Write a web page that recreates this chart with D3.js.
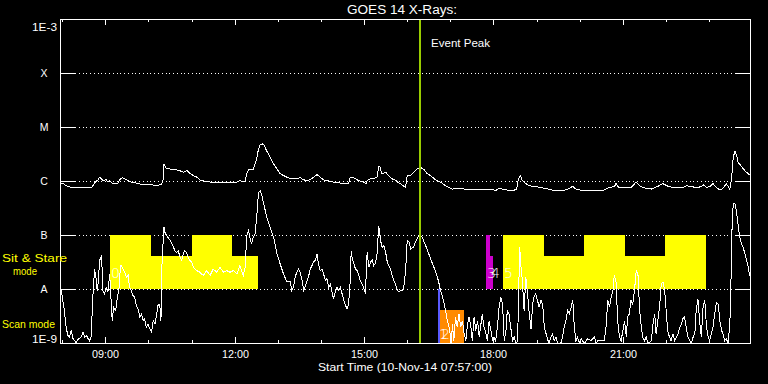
<!DOCTYPE html>
<html><head><meta charset="utf-8">
<script src="https://cdn.jsdelivr.net/npm/d3@7"></script>
<style>html,body{margin:0;padding:0;background:#000;}svg{display:block;}</style>
</head><body>
<svg id="c" width="768" height="384"></svg>
<script>
// ---------- data ----------
const levelValues = [1e-3, 1e-4, 1e-5, 1e-6, 1e-7, 1e-8, 1e-9];
const levelLabels = ["1E-3", "X", "M", "C", "B", "A", "1E-9"];
const gridLevels = [1e-4, 1e-5, 1e-6, 1e-7, 1e-8];
const majorHours = [9, 12, 15, 18, 21];
const startHour = 7.95, endHour = 23.95;   // 07:57 .. 23:57 UT, 10-Nov-14
const eventPeakHour = 16.3;

// GOES 14 long channel (1-8 A): hour UT, log10 flux (W/m^2)
const longTime = [7.93,8.00,8.08,8.20,8.31,8.55,8.66,8.70,8.76,8.82,8.86,8.90,8.93,9.01,9.05,9.09,9.15,9.21,9.28,9.32,9.38,9.44,9.52,9.59,9.71,9.87,10.02,10.18,10.29,10.33,10.35,10.39,10.49,10.60,10.72,10.80,10.83,10.89,10.95,11.03,11.11,11.18,11.26,11.42,11.57,11.80,11.96,12.04,12.11,12.18,12.23,12.27,12.31,12.38,12.42,12.46,12.50,12.54,12.58,12.63,12.67,12.73,12.81,12.89,12.97,13.04,13.12,13.20,13.28,13.35,13.43,13.51,13.59,13.66,13.74,13.82,13.90,13.97,14.05,14.13,14.28,14.44,14.56,14.63,14.67,14.75,14.83,14.90,14.98,15.04,15.06,15.14,15.21,15.29,15.33,15.37,15.38,15.41,15.49,15.56,15.64,15.72,15.80,15.83,
15.95,15.99,16.07,16.14,16.22,16.30,16.38,16.45,16.53,16.65,16.76,16.88,16.96,17.04,17.15,17.31,17.46,17.62,17.77,17.93,18.04,18.12,18.20,18.32,18.47,18.53,18.56,18.61,18.66,18.74,18.82,18.94,19.09,19.25,19.40,19.59,19.71,19.83,19.90,20.02,20.18,20.33,20.52,20.64,20.80,20.83,20.89,20.99,21.18,21.30,21.38,21.49,21.65,21.80,21.92,22.04,22.19,22.35,22.46,22.58,22.70,22.81,22.87,22.93,23.01,23.08,23.16,23.24,23.32,23.39,23.47,23.51,23.55,23.59,23.63,23.66,23.74,23.82,23.90,23.97];
const longLog = [-6.04,-6.03,-6.08,-6.11,-6.12,-6.11,-6.12,-6.08,-6.01,-5.97,-5.92,-5.95,-5.98,-5.97,-6.01,-5.98,-6.03,-6.04,-6.03,-5.97,-5.93,-5.95,-5.98,-6.01,-6.03,-6.06,-6.06,-6.07,-6.06,-5.97,-5.67,-5.75,-5.77,-5.78,-5.80,-5.83,-5.81,-5.80,-5.85,-5.89,-5.92,-5.97,-5.99,-6.01,-6.01,-6.01,-6.01,-6.01,-5.98,-6.01,-5.99,-5.85,-5.78,-5.78,-5.77,-5.67,-5.58,-5.40,-5.32,-5.30,-5.33,-5.43,-5.55,-5.67,-5.77,-5.85,-5.89,-5.92,-5.95,-5.95,-5.95,-5.93,-5.97,-5.98,-5.97,-5.92,-5.87,-5.92,-5.97,-5.98,-6.01,-6.03,-6.04,-6.04,-5.92,-5.93,-5.97,-5.99,-6.01,-6.04,-5.98,-5.95,-5.95,-5.92,-5.72,-5.74,-5.80,-5.86,-5.83,-5.89,-5.95,-5.98,-6.03,-6.04,
-6.11,-5.89,-5.89,-5.83,-5.77,-5.74,-5.78,-5.85,-5.89,-5.97,-6.01,-6.08,-6.11,-6.14,-6.12,-6.14,-6.15,-6.15,-6.14,-6.14,-6.17,-6.12,-6.14,-6.16,-6.16,-6.14,-5.98,-5.89,-5.98,-6.04,-6.08,-6.09,-6.11,-6.14,-6.17,-6.17,-6.14,-6.09,-6.14,-6.16,-6.17,-6.17,-6.17,-6.12,-6.09,-6.03,-6.11,-6.12,-6.11,-6.01,-6.08,-6.12,-6.14,-6.09,-6.04,-6.09,-6.12,-6.12,-6.08,-6.09,-6.12,-6.09,-6.06,-6.11,-6.09,-6.04,-6.11,-6.16,-6.12,-6.04,-6.14,-5.95,-5.55,-5.44,-5.52,-5.64,-5.72,-5.80,-5.86,-5.89];

// GOES 14 short channel (0.5-4 A): hour UT, log10 flux (W/m^2); -9 = below plot floor
const shortTime = [7.93,7.97,8.00,8.04,8.08,8.12,8.16,8.20,8.24,8.28,8.31,8.35,8.43,8.47,8.51,8.55,8.59,8.62,8.66,8.70,8.74,8.78,8.80,8.82,8.86,8.90,8.92,8.93,8.97,9.01,9.05,9.09,9.13,9.15,9.18,9.23,9.26,9.31,9.34,9.36,9.40,9.44,9.48,9.52,9.55,9.59,9.63,9.67,9.71,9.75,9.79,9.83,9.87,9.90,9.94,9.98,10.02,10.06,10.10,10.14,10.18,10.21,10.25,10.28,10.29,10.31,10.35,10.37,10.41,10.49,10.56,10.60,10.64,10.68,10.72,10.76,10.80,10.83,10.87,10.91,10.95,10.99,11.03,11.11,11.18,11.26,11.34,11.42,11.49,11.57,11.65,11.73,11.80,11.88,11.96,12.04,12.11,12.19,12.23,12.27,12.31,12.35,12.38,12.42,12.46,12.50,12.54,12.58,12.62,12.66,12.69,12.73,12.77,12.81,12.89,12.97,13.04,13.12,13.20,13.28,
13.31,13.35,13.39,13.43,13.47,13.51,13.55,13.59,13.62,13.66,13.70,13.74,13.78,13.82,13.86,13.90,13.93,13.97,14.01,14.05,14.09,14.13,14.17,14.21,14.24,14.28,14.32,14.36,14.40,14.44,14.48,14.52,14.55,14.59,14.63,14.67,14.69,14.71,14.75,14.79,14.83,14.86,14.90,14.94,14.98,15.02,15.06,15.10,15.14,15.18,15.21,15.25,15.29,15.33,15.37,15.41,15.45,15.49,15.52,15.56,15.60,15.64,15.68,15.72,15.76,15.80,15.83,15.87,15.91,15.95,15.99,16.03,16.07,16.11,16.14,16.18,16.22,16.26,16.30,16.34,16.38,16.45,16.53,16.61,16.69,16.73,16.76,16.80,16.84,16.88,16.92,16.96,17.00,17.01,17.04,17.07,17.11,17.15,17.19,17.23,17.27,17.31,17.35,17.38,17.42,17.46,17.50,17.54,17.58,17.62,17.66,17.69,17.73,17.77,17.81,17.85,17.89,17.93,17.97,18.00,18.04,18.08,18.12,18.16,18.20,18.24,18.28,18.31,18.35,18.39,18.43,18.47,18.51,18.55,18.58,18.60,
18.62,18.66,18.70,18.74,18.78,18.82,18.86,18.90,18.93,18.97,19.01,19.05,19.09,19.13,19.17,19.21,19.24,19.28,19.32,19.36,19.40,19.44,19.48,19.55,19.59,19.63,19.67,19.71,19.75,19.79,19.83,19.86,19.90,19.94,19.98,20.02,20.10,20.17,20.25,20.33,20.37,20.41,20.48,20.56,20.60,20.64,20.68,20.72,20.76,20.79,20.83,20.87,20.91,20.95,20.99,21.03,21.07,21.10,21.14,21.18,21.22,21.26,21.30,21.34,21.38,21.41,21.45,21.49,21.53,21.57,21.65,21.69,21.73,21.76,21.80,21.84,21.88,21.92,21.96,22.00,22.03,22.07,22.11,22.15,22.19,22.23,22.27,22.31,22.35,22.38,22.42,22.46,22.50,22.54,22.58,22.62,22.66,22.69,22.73,22.77,22.81,22.85,22.89,22.93,22.97,23.00,23.04,23.08,23.12,23.16,23.20,23.24,23.28,23.31,23.35,23.39,23.43,23.47,23.49,23.52,23.55,23.59,23.62,23.66,23.70,23.74,23.78,23.82,23.86,23.90,23.93,23.97,23.99];
const shortLog = [-7.96,-8.02,-8.20,-8.39,-8.70,-8.85,-8.88,-8.76,-8.91,-8.95,-8.98,-8.93,-8.88,-8.79,-8.88,-8.85,-8.91,-8.95,-8.88,-8.14,-7.62,-7.83,-8.02,-7.90,-7.46,-7.37,-7.71,-8.02,-8.08,-7.96,-8.05,-7.71,-8.30,-8.58,-8.33,-8.39,-8.20,-7.96,-7.56,-7.56,-7.62,-7.68,-7.77,-7.74,-7.96,-8.02,-8.11,-8.14,-8.30,-8.36,-8.51,-8.45,-8.58,-8.54,-8.70,-8.64,-8.73,-8.79,-8.58,-8.64,-8.45,-8.30,-8.27,-8.58,-7.83,-7.40,-6.85,-6.94,-7.00,-7.09,-7.19,-7.28,-7.31,-7.28,-7.40,-7.46,-7.34,-7.28,-7.31,-7.40,-7.46,-7.49,-7.59,-7.65,-7.68,-7.74,-7.65,-7.74,-7.62,-7.68,-7.59,-7.68,-7.65,-7.68,-7.65,-7.71,-7.56,-7.74,-7.59,-7.00,-6.91,-7.06,-7.16,-7.03,-6.97,-6.66,-6.20,-6.17,-6.26,-6.41,-6.51,-6.66,-6.75,-6.85,-7.03,-7.34,-7.52,-7.71,-7.86,-7.86,
-8.02,-7.96,-7.77,-7.68,-7.62,-7.68,-7.83,-8.02,-7.96,-7.86,-7.77,-7.62,-7.56,-7.49,-7.46,-7.34,-7.52,-7.65,-7.62,-7.71,-7.83,-7.80,-7.96,-7.90,-8.02,-8.17,-8.05,-7.96,-8.02,-7.96,-8.08,-8.20,-8.27,-8.36,-8.27,-7.83,-7.28,-7.40,-7.52,-7.62,-7.65,-7.71,-7.83,-7.90,-7.96,-8.08,-7.31,-7.59,-7.49,-7.46,-7.56,-7.52,-7.34,-6.82,-7.09,-7.22,-7.19,-7.31,-7.46,-7.56,-7.62,-7.74,-7.83,-7.90,-8.02,-8.05,-8.02,-8.02,-7.96,-7.68,-7.09,-7.12,-7.25,-7.22,-7.22,-7.12,-7.06,-7.00,-7.00,-7.03,-7.12,-7.25,-7.43,-7.59,-7.77,-7.90,-8.02,-8.11,-8.24,-8.39,-8.58,-8.70,-8.88,-9.0,-8.64,-8.95,-8.51,-8.70,-8.45,-8.70,-8.58,-8.82,-8.95,-8.70,-8.51,-8.64,-8.95,-8.51,-8.76,-8.58,-8.88,-8.70,-8.45,-8.70,-8.79,-8.95,-8.58,-8.76,-8.95,-8.88,-8.95,-8.70,-8.33,-8.14,-8.27,-8.95,-8.76,-8.39,-8.45,-8.70,-8.95,-8.88,-9.0,-8.95,-7.83,-7.22,
-7.52,-7.83,-8.39,-7.77,-8.08,-8.45,-8.73,-8.27,-8.14,-8.08,-8.20,-8.33,-8.20,-8.27,-8.70,-8.82,-8.91,-9.0,-8.88,-8.82,-8.95,-8.88,-9.0,-9.0,-8.88,-8.70,-8.58,-8.39,-8.45,-8.33,-8.20,-8.64,-8.95,-8.88,-9.0,-8.91,-9.0,-8.91,-8.95,-8.88,-9.0,-8.95,-8.95,-8.95,-8.70,-8.20,-8.33,-8.14,-8.02,-7.74,-7.83,-8.58,-8.88,-8.95,-8.76,-8.58,-8.88,-8.51,-8.45,-8.20,-8.27,-8.02,-7.65,-7.71,-8.39,-8.64,-8.88,-8.95,-8.88,-9.0,-8.95,-8.64,-8.45,-8.82,-8.58,-8.33,-7.90,-7.86,-8.02,-8.45,-8.76,-8.88,-8.95,-8.82,-8.95,-8.88,-8.82,-8.70,-8.64,-8.54,-8.51,-8.70,-8.88,-8.95,-9.0,-8.88,-8.82,-8.39,-8.17,-8.58,-8.88,-8.33,-8.20,-8.70,-8.88,-8.95,-8.82,-8.70,-8.45,-8.24,-8.27,-8.58,-8.76,-8.82,-8.95,-8.91,-9.0,-8.64,-8.14,-6.91,-6.41,-6.41,-6.54,-6.78,-7.03,-7.16,-7.22,-7.34,-7.46,-7.59,-7.74,-7.62,-7.40];

// IRIS observations: id, mode, label time
const obsId = [0, 1, 2, 3, 4, 5];
const obsMode = ["sit", "scan", "scan", "sit", "sit", "sit"];
const obsLabelHour = [9.11, 16.715, 16.762, 17.828, 17.921, 18.222];
// observation bar segments (hour UT); tall = full band
const segObs   = [0, 0, 0, 1, 2, 3, 3, 5, 5, 5, 5];
const segStart = [9.11, 9.11, 11.0, 16.715, 16.762, 17.828, 17.828, 18.222, 18.222, 20.101, 21.979];
const segEnd   = [12.548, 10.053, 11.931, 16.762, 17.318, 17.997, 17.921, 22.930, 19.173, 21.052, 22.930];
const segTall  = [false, true, true, true, false, false, true, false, true, true, true];

// ---------- drawing ----------
const obsColor = {0: "#ffff00", 1: "#5a5aff", 2: "#ff8a00", 3: "#cc00cc", 4: "#cc00cc", 5: "#ffff00"};
const FONT = "'Liberation Sans', Arial, sans-serif";
const svg = d3.select("#c");
svg.append("rect").attr("width", 768).attr("height", 384).attr("fill", "#000");

const t0 = Date.UTC(2014, 10, 10);
const toDate = h => new Date(t0 + h * 3600e3);
const x = d3.scaleUtc().domain([toDate(startHour), toDate(endHour)]).range([60, 750]);
const y = d3.scaleLog().domain([1e-9, 1e-3]).range([343, 19]);
const px = v => Math.round(v) + 0.5;

svg.append("clipPath").attr("id", "clip").append("rect")
  .attr("x", 60).attr("y", 19).attr("width", 691).attr("height", 325);

// dotted grid
svg.append("g").selectAll("line").data(gridLevels).join("line")
  .attr("x1", 60).attr("x2", 750)
  .attr("y1", d => px(y(d))).attr("y2", d => px(y(d)))
  .attr("stroke", "#fff").attr("stroke-width", 1)
  .attr("stroke-dasharray", "1 2.77").attr("shape-rendering", "crispEdges");

// observation bars
const band = {sit: [1e-8, 1e-7], scan: [1e-9, 1e-8]};
const partFrac = 0.61;
const segTop = i => {
  const b = band[obsMode[segObs[i]]];
  return segTall[i] ? b[1] : Math.pow(10, Math.log10(b[0]) + partFrac);
};
svg.append("g").selectAll("rect").data(segObs.map((o, i) => i)).join("rect")
  .attr("x", i => Math.round(x(toDate(segStart[i]))))
  .attr("width", i => Math.round(x(toDate(segEnd[i]))) - Math.round(x(toDate(segStart[i]))))
  .attr("y", i => Math.floor(y(segTop(i))))
  .attr("height", i => Math.floor(y(band[obsMode[segObs[i]]][0])) - Math.floor(y(segTop(i))))
  .attr("fill", i => obsColor[segObs[i]])
  .attr("shape-rendering", "crispEdges");

// curves
const line = d3.line()
  .x(d => x(toDate(d[0])) + 0.5)
  .y(d => y(Math.pow(10, d[1])) + 0.5);
const curves = svg.append("g").attr("clip-path", "url(#clip)");
curves.append("path").datum(shortTime.map((t, i) => [t, shortLog[i]]))
  .attr("d", line).attr("fill", "none").attr("stroke", "#fff").attr("stroke-width", 1)
  .attr("shape-rendering", "crispEdges");
curves.append("path").datum(longTime.map((t, i) => [t, longLog[i]]))
  .attr("d", line).attr("fill", "none").attr("stroke", "#fff").attr("stroke-width", 1)
  .attr("shape-rendering", "crispEdges");

// observation labels (overlapping pairs as in the reference)
svg.append("g").selectAll("text").data(obsId).join("text")
  .attr("x", i => Math.round(x(toDate(obsLabelHour[i]))) + 1)
  .attr("y", i => obsMode[i] === "sit" ? y(1e-8) - 11 : y(1e-9) - 4)
  .attr("fill", "#fff")
  .attr("font-family", "'DejaVu Sans', sans-serif")
  .attr("font-weight", 200)
  .attr("font-size", 14)
  .text(i => String(obsId[i]));

// event peak line
const ex = Math.round(x(toDate(eventPeakHour)));
svg.append("line").attr("x1", ex).attr("x2", ex).attr("y1", 19).attr("y2", 344)
  .attr("stroke", "#99cc00").attr("stroke-width", 2).attr("shape-rendering", "crispEdges");
svg.append("text").attr("x", ex + 11).attr("y", 47).attr("fill", "#fff")
  .attr("font-family", FONT).attr("font-size", 11)
  .attr("textLength", 59).attr("lengthAdjust", "spacingAndGlyphs").text("Event Peak");

// frame
svg.append("rect").attr("x", 60.5).attr("y", 19.5).attr("width", 690).attr("height", 324)
  .attr("fill", "none").attr("stroke", "#fff").attr("shape-rendering", "crispEdges");

// axes
function styleAxis(g) {
  g.select(".domain").remove();
  g.selectAll("line").attr("stroke", "#fff").attr("shape-rendering", "crispEdges");
  g.attr("font-family", FONT);
}
const hourTicks = d3.utcHour.every(1);
const isMajor = d => majorHours.includes(d.getUTCHours());

const gb = svg.append("g").attr("transform", "translate(0,343)")
  .call(d3.axisBottom(x).ticks(hourTicks).tickSize(-3)
    .tickFormat(d => isMajor(d) ? d3.utcFormat("%H:%M")(d) : ""));
styleAxis(gb);
gb.selectAll(".tick").attr("transform", d => `translate(${px(x(d))},0)`);
gb.selectAll(".tick line").attr("y2", d => isMajor(d) ? -6 : -3);
gb.selectAll(".tick text").attr("y", 15).attr("dy", 0).attr("fill", "#fff")
  .attr("font-size", 10.5).attr("textLength", d => isMajor(d) ? 27 : null)
  .attr("lengthAdjust", "spacingAndGlyphs");

const gt = svg.append("g").attr("transform", "translate(0,19)")
  .call(d3.axisTop(x).ticks(hourTicks).tickSize(-3).tickFormat(""));
styleAxis(gt);
gt.selectAll(".tick").attr("transform", d => `translate(${px(x(d))},0)`);
gt.selectAll(".tick line").attr("y2", d => isMajor(d) ? 6 : 3);

const gl = svg.append("g").attr("transform", "translate(60,0)")
  .call(d3.axisLeft(y).tickValues(levelValues).tickSize(-15)
    .tickFormat(d => levelLabels[levelValues.indexOf(d)]));
styleAxis(gl);
gl.selectAll(".tick text").attr("fill", "#fff").attr("font-size", 10.5)
  .each(function(d) {
    const t = d3.select(this);
    const lab = levelLabels[levelValues.indexOf(d)];
    if (lab.length > 1) {
      t.attr("text-anchor", "end").attr("x", -3)
       .attr("textLength", 25).attr("lengthAdjust", "spacingAndGlyphs");
      t.attr("dy", d === 1e-3 ? "1.05em" : "-0.05em");
    } else {
      t.attr("text-anchor", "middle").attr("x", -16).attr("dy", "0.36em");
    }
  });

const gr = svg.append("g").attr("transform", "translate(750,0)")
  .call(d3.axisRight(y).tickValues(levelValues).tickSize(-15).tickFormat(""));
styleAxis(gr);

// titles
svg.append("text").attr("x", 402).attr("y", 14).attr("text-anchor", "middle")
  .attr("fill", "#fff").attr("font-family", FONT).attr("font-size", 12)
  .attr("textLength", 110).attr("lengthAdjust", "spacingAndGlyphs").text("GOES 14 X-Rays:");
svg.append("text").attr("x", 405).attr("y", 371).attr("text-anchor", "middle")
  .attr("fill", "#fff").attr("font-family", FONT).attr("font-size", 11.5)
  .attr("textLength", 174).attr("lengthAdjust", "spacingAndGlyphs")
  .text("Start Time (10-Nov-14 07:57:00)");

// mode labels
const modeLabels = [
  {t: "Sit & Stare", x: 2, y: y(1e-7) + 27, w: 65},
  {t: "mode", x: 13, y: y(1e-7) + 40, w: 24},
  {t: "Scan mode", x: 2, y: y(1e-8) + 39, w: 53}
];
svg.append("g").selectAll("text").data(modeLabels).join("text")
  .attr("x", d => d.x).attr("y", d => d.y).attr("fill", "#ffff00")
  .attr("font-family", FONT).attr("font-size", 11)
  .attr("textLength", d => d.w).attr("lengthAdjust", "spacingAndGlyphs")
  .text(d => d.t);
</script>
</body></html>
